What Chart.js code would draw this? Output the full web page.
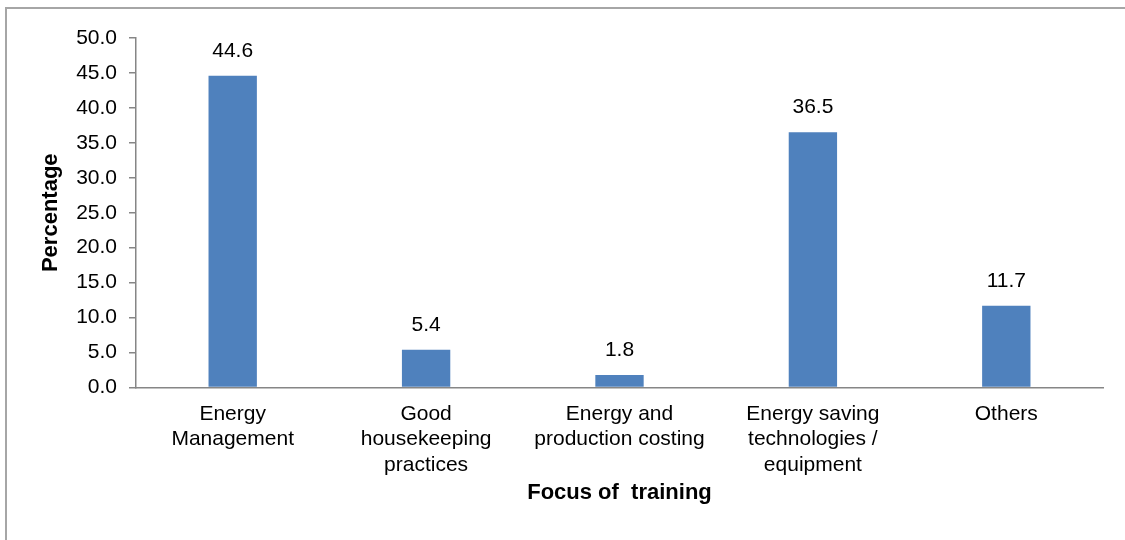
<!DOCTYPE html>
<html>
<head>
<meta charset="utf-8">
<script src="https://cdn.jsdelivr.net/npm/chart.js@4.4.0/dist/chart.umd.min.js"></script>
<style>
  body { margin: 0; background: #fff; }
  #wrap { width: 1125px; height: 540px; position: relative; }
</style>
</head>
<body>
<div id="wrap"><canvas id="myChart"></canvas></div>
<script>
// values
var categories = [
  ['Energy', 'Management'],
  ['Good', 'housekeeping', 'practices'],
  ['Energy and', 'production costing'],
  ['Energy saving', 'technologies /', 'equipment'],
  ['Others']
];
var percentages = [44.6, 5.4, 1.8, 36.5, 11.7];
var yTicks = [0, 5, 10, 15, 20, 25, 30, 35, 40, 45, 50];

var axisGrey = '#868686';
var fontName = "'Liberation Sans', Arial, sans-serif";

// outer frame (top + left edge only, the rest is cut off) and value labels
var extras = {
  id: 'extras',
  beforeDraw: function (chart) {
    var ctx = chart.ctx;
    ctx.save();
    ctx.strokeStyle = '#a6a6a6';
    ctx.lineWidth = 2;
    ctx.beginPath();
    ctx.moveTo(6, 540);
    ctx.lineTo(6, 8);
    ctx.lineTo(1125, 8);
    ctx.stroke();
    ctx.restore();
  },
  afterDatasetsDraw: function (chart) {
    var ctx = chart.ctx;
    var meta = chart.getDatasetMeta(0);
    ctx.save();
    ctx.fillStyle = '#000';
    ctx.font = '21px ' + fontName;
    ctx.textAlign = 'center';
    ctx.textBaseline = 'alphabetic';
    meta.data.forEach(function (bar, i) {
      ctx.fillText(percentages[i].toFixed(1), bar.x, bar.y - 19);
    });
    ctx.restore();
  }
};

var ctx = document.getElementById('myChart').getContext('2d');
var myChart = new Chart(ctx, {
  type: 'bar',
  data: {
    labels: categories,
    datasets: [{
      data: percentages,
      backgroundColor: '#4f81bd',
      borderWidth: 0,
      barPercentage: 0.25,
      categoryPercentage: 1
    }]
  },
  options: {
    responsive: true,
    maintainAspectRatio: false,
    animation: false,
    layout: { padding: { left: 0, top: 38, right: 22, bottom: 0 } },
    plugins: {
      legend: { display: false },
      tooltip: { enabled: false }
    },
    scales: {
      x: {
        grid: { display: false },
        border: { display: true, color: axisGrey, width: 1.5 },
        ticks: {
          color: '#000',
          padding: 6,
          maxRotation: 0,
          autoSkip: false,
          font: { family: fontName, size: 21, lineHeight: 1.21 }
        },
        title: {
          display: true,
          text: 'Focus of  training',
          color: '#000',
          padding: { top: 0, bottom: 34 },
          font: { family: fontName, size: 22, weight: 'bold', lineHeight: 1.2 }
        },
        afterFit: function (scale) { scale.height = 152.5; }
      },
      y: {
        min: 0,
        max: 50,
        afterBuildTicks: function (scale) {
          scale.ticks = yTicks.map(function (v) { return { value: v }; });
        },
        grid: { drawOnChartArea: false, color: axisGrey, tickLength: 7, lineWidth: 1.5 },
        border: { display: true, color: axisGrey, width: 1.5 },
        ticks: {
          color: '#000',
          padding: 12,
          font: { family: fontName, size: 21 },
          callback: function (v) { return Number(v).toFixed(1); }
        },
        title: {
          display: true,
          text: 'Percentage',
          color: '#000',
          padding: { top: 38, bottom: 0 },
          font: { family: fontName, size: 22, weight: 'bold', lineHeight: 1.2 }
        },
        afterFit: function (scale) { scale.width = 136; }
      }
    }
  },
  plugins: [extras]
});
</script>
</body>
</html>
